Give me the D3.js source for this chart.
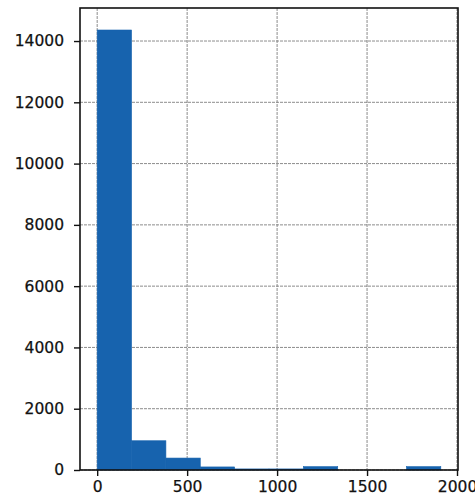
<!DOCTYPE html>
<html>
<head>
<meta charset="utf-8">
<script src="https://cdn.jsdelivr.net/npm/d3@7"></script>
<style>
  html, body { margin: 0; padding: 0; background: #fff; }
  svg { display: block; }
  .tick text { font-family: "DejaVu Sans", sans-serif; font-size: 15.5px; fill: #111; stroke: #111; stroke-width: 0.25px; }
</style>
</head>
<body>
<svg id="chart" width="475" height="501"></svg>
<script>
// Histogram bins (edges) and counts
const binEdges = [0, 191, 382, 573, 764, 955, 1146, 1337, 1528, 1719, 1910];
const counts = [14360, 955, 390, 100, 35, 35, 110, 0, 0, 110];
const xTicks = [0, 500, 1000, 1500, 2000];
const yTicks = [0, 2000, 4000, 6000, 8000, 10000, 12000, 14000];

const margin = { left: 80, right: 17, top: 8, bottom: 31 };
const W = 475, H = 501;
const iw = W - margin.left - margin.right;
const ih = H - margin.top - margin.bottom;

const svg = d3.select("#chart");
const g = svg.append("g").attr("transform", `translate(${margin.left},${margin.top})`);

const xMin = binEdges[0], xMax = binEdges[binEdges.length - 1];
const pad = (xMax - xMin) * 0.05;
const x = d3.scaleLinear().domain([xMin - pad, xMax + pad]).range([0, iw]);
const y = d3.scaleLinear().domain([0, d3.max(counts) * 1.05]).range([ih, 0]);

// grid
const grid = g.append("g");
grid.selectAll("line.gx").data(xTicks).join("line")
  .attr("x1", d => x(d)).attr("x2", d => x(d))
  .attr("y1", 0).attr("y2", ih)
  .attr("stroke", "#7f7f7f").attr("stroke-width", 0.9).attr("stroke-dasharray", "3,1");
grid.selectAll("line.gy").data(yTicks).join("line")
  .attr("x1", 0).attr("x2", iw)
  .attr("y1", d => y(d)).attr("y2", d => y(d))
  .attr("stroke", "#7f7f7f").attr("stroke-width", 0.9).attr("stroke-dasharray", "3,1");

// bars
const bins = counts.map((c, i) => ({ x0: binEdges[i], x1: binEdges[i + 1], c }));
g.append("g").selectAll("rect").data(bins).join("rect")
  .attr("x", d => x(d.x0))
  .attr("width", d => x(d.x1) - x(d.x0))
  .attr("y", d => y(d.c))
  .attr("height", d => y(0) - y(d.c))
  .attr("fill", "#1763ae")
  .attr("stroke", "#1763ae").attr("stroke-width", 0.6);

// axes
const xAxis = d3.axisBottom(x).tickValues(xTicks).tickFormat(d3.format("d")).tickSize(6).tickPadding(5);
const yAxis = d3.axisLeft(y).tickValues(yTicks).tickFormat(d3.format("d")).tickSize(6).tickPadding(10);

const gx = g.append("g").attr("transform", `translate(0,${ih})`).call(xAxis);
const gy = g.append("g").call(yAxis);
[gx, gy].forEach(a => {
  a.select(".domain").remove();
  a.selectAll(".tick line").attr("stroke", "#111").attr("stroke-width", 1.4);
});

// spines
g.append("rect").attr("x", 0).attr("y", 0).attr("width", iw).attr("height", ih)
  .attr("fill", "none").attr("stroke", "#111").attr("stroke-width", 1.6);
</script>
</body>
</html>
